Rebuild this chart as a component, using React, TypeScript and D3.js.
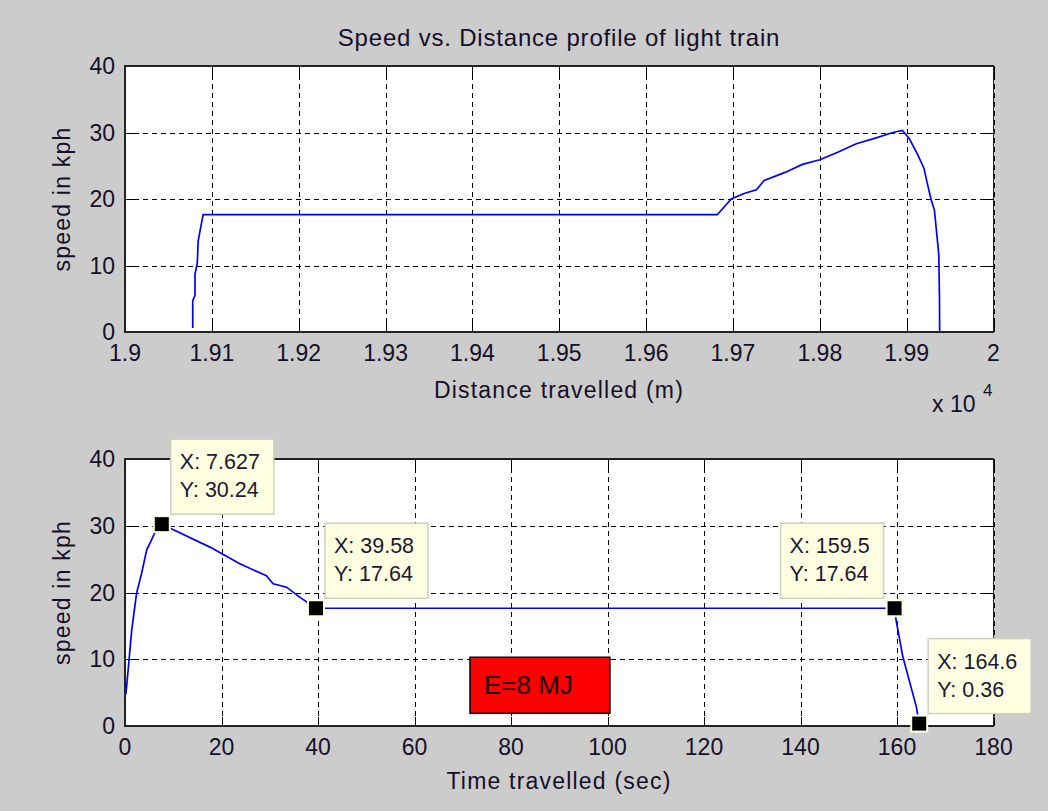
import React from "react";
import * as d3 from "d3";

// ---- data ----
const topDistance = [19078, 19078, 19080.6, 19080.6, 19083.2, 19084.3, 19087.1, 19090, 19682, 19698, 19712, 19727, 19736, 19760, 19780, 19800, 19820, 19842, 19865, 19884, 19895, 19903, 19913, 19920, 19923, 19928, 19932, 19934.7, 19937, 19937.8, 19938];
const topSpeed = [0.6, 4.7, 5.5, 8.7, 10.3, 13.7, 15.7, 17.64, 17.64, 20.0, 20.8, 21.4, 22.8, 24.0, 25.2, 25.9, 27.0, 28.3, 29.2, 30.0, 30.3, 29.1, 26.6, 24.6, 22.8, 20.0, 18.3, 14.7, 11.7, 5.0, 0.0];

const botTime = [0, 0, 0.2, 0.7, 1.4, 2.4, 3.45, 4.5, 5.5, 6.2, 7.627, 9.7, 17.6, 23.8, 29.3, 30.7, 33.5, 36.2, 39.58, 159.5, 159.8, 161.2, 164, 164.6];
const botSpeed = [0, 4.9, 4.9, 8.8, 14.4, 19.9, 22.9, 26.4, 27.9, 29.0, 30.24, 29.5, 26.8, 24.3, 22.5, 21.3, 20.8, 19.3, 17.64, 17.64, 15.9, 10.4, 2.9, 0.36];

const tipX = [7.627, 39.58, 159.5, 164.6];
const tipY = [30.24, 17.64, 17.64, 0.36];
const tipSide = ["right", "right", "left", "right"];

const topXTicks = [19000, 19100, 19200, 19300, 19400, 19500, 19600, 19700, 19800, 19900, 20000];
const topXTickLabels = ["1.9", "1.91", "1.92", "1.93", "1.94", "1.95", "1.96", "1.97", "1.98", "1.99", "2"];
const yTicks = [0, 10, 20, 30, 40];
const botXTicks = [0, 20, 40, 60, 80, 100, 120, 140, 160, 180];

const titleText = "Speed vs. Distance profile of light train";
const topXLabel = "Distance travelled (m)";
const botXLabel = "Time travelled (sec)";
const yLabel = "speed in kph";
const energyLabel = "E=8 MJ";
const energyBoxX = [71.5, 100.5];
const energyBoxY = [1.9, 10.3];

const FONT = "'Liberation Sans', Arial, Helvetica, sans-serif";
const INK = "#150f28";

function Axes({ x, y, xTicks, xLabels, yTicks }) {
  const [x0, x1] = x.range();
  const [yb, yt] = y.range();
  return (
    <g>
      <rect x={x0} y={yt} width={x1 - x0} height={yb - yt} fill="#fff" />
      <g shapeRendering="crispEdges">
        {xTicks.map((t, i) => (
          <line key={"gx" + i} x1={Math.round(x(t)) + 0.5} x2={Math.round(x(t)) + 0.5} y1={yt} y2={yb} stroke="#000" strokeWidth={1.2} strokeDasharray="5,4" />
        ))}
        {yTicks.map((t, i) => (
          <line key={"gy" + i} x1={x0} x2={x1} y1={Math.round(y(t)) + 0.5} y2={Math.round(y(t)) + 0.5} stroke="#000" strokeWidth={1.2} strokeDasharray="5,4" />
        ))}
        {xTicks.map((t, i) => (
          <g key={"tk" + i}>
            <line x1={Math.round(x(t)) + 0.5} x2={Math.round(x(t)) + 0.5} y1={yb} y2={yb - 9} stroke="#000" strokeWidth={1.5} />
            <line x1={Math.round(x(t)) + 0.5} x2={Math.round(x(t)) + 0.5} y1={yt} y2={yt + 9} stroke="#000" strokeWidth={1.5} />
          </g>
        ))}
        {yTicks.map((t, i) => (
          <g key={"tl" + i}>
            <line x1={x0} x2={x0 + 9} y1={Math.round(y(t)) + 0.5} y2={Math.round(y(t)) + 0.5} stroke="#000" strokeWidth={1.5} />
            <line x1={x1} x2={x1 - 9} y1={Math.round(y(t)) + 0.5} y2={Math.round(y(t)) + 0.5} stroke="#000" strokeWidth={1.5} />
          </g>
        ))}
      </g>
      {xTicks.map((t, i) => (
        <text key={"tx" + i} x={x(t)} y={yb + 29} textAnchor="middle" fontSize={23} fontFamily={FONT} fill={INK}>{xLabels[i]}</text>
      ))}
      {yTicks.map((t, i) => (
        <text key={"ty" + i} x={x0 - 10} y={y(t) + 8} textAnchor="end" fontSize={23} fontFamily={FONT} fill={INK}>{t}</text>
      ))}
    </g>
  );
}

export default function App() {
  const W = 1048, H = 811;
  const xTop = d3.scaleLinear().domain([19000, 20000]).range([125, 993.5]);
  const yTop = d3.scaleLinear().domain([0, 40]).range([332, 66]);
  const xBot = d3.scaleLinear().domain([0, 180]).range([125, 993.5]);
  const yBot = d3.scaleLinear().domain([0, 40]).range([726, 459]);

  const topLine = d3.line<number>().x((d, i) => xTop(topDistance[i])).y((d, i) => yTop(topSpeed[i]));
  const botLine = d3.line<number>().x((d, i) => xBot(botTime[i])).y((d, i) => yBot(botSpeed[i]));

  const txtStyle = { letterSpacing: "1.2px" };

  return (
    <div style={{ position: "absolute", left: 0, top: 0 }}>
      <svg width={W} height={H} style={{ display: "block" }}>
        <rect x={0} y={0} width={W} height={H} fill="#cccccc" />

        {/* top chart */}
        <Axes x={xTop} y={yTop} xTicks={topXTicks} xLabels={topXTickLabels} yTicks={yTicks} />
        <path d={topLine(topSpeed) || ""} fill="none" stroke="#0000ff" strokeWidth={1.7} />
        <rect x={125} y={66} width={868.5} height={266} fill="none" stroke="#222" strokeWidth={1.5} shapeRendering="crispEdges" />
        <text x={559} y={46} textAnchor="middle" fontSize={24} fontFamily={FONT} fill={INK} style={{ letterSpacing: "0.8px" }}>{titleText}</text>
        <text x={559} y={398} textAnchor="middle" fontSize={23} fontFamily={FONT} fill={INK} style={txtStyle}>{topXLabel}</text>
        <text transform={`translate(70,${(66 + 332) / 2}) rotate(-90)`} textAnchor="middle" fontSize={23} fontFamily={FONT} fill={INK} style={txtStyle}>{yLabel}</text>
        <text x={932} y={412} fontSize={23} fontFamily={FONT} fill={INK}>x 10</text>
        <text x={983} y={396} fontSize={17} fontFamily={FONT} fill={INK}>4</text>

        {/* bottom chart */}
        <Axes x={xBot} y={yBot} xTicks={botXTicks} xLabels={botXTicks.map(String)} yTicks={yTicks} />
        <path d={botLine(botSpeed) || ""} fill="none" stroke="#0000ff" strokeWidth={1.7} />
        <rect x={125} y={459} width={868.5} height={267} fill="none" stroke="#222" strokeWidth={1.5} shapeRendering="crispEdges" />
        <text x={559} y={789} textAnchor="middle" fontSize={23} fontFamily={FONT} fill={INK} style={txtStyle}>{botXLabel}</text>
        <text transform={`translate(70,${(459 + 726) / 2}) rotate(-90)`} textAnchor="middle" fontSize={23} fontFamily={FONT} fill={INK} style={txtStyle}>{yLabel}</text>

        {/* energy box */}
        <rect x={xBot(energyBoxX[0])} y={yBot(energyBoxY[1])} width={xBot(energyBoxX[1]) - xBot(energyBoxX[0])} height={yBot(energyBoxY[0]) - yBot(energyBoxY[1])} fill="#ff0000" stroke="#000" strokeWidth={1.5} />
        <text x={xBot(energyBoxX[0]) + 14} y={(yBot(energyBoxY[0]) + yBot(energyBoxY[1])) / 2 + 9} fontSize={26} fontFamily={FONT} fill="#1a0000">{energyLabel}</text>

        {/* data tips */}
        {tipX.map((tx, i) => {
          const cx = xBot(tx), cy = yBot(tipY[i]);
          const bw = 103, bh = 75;
          const bx = tipSide[i] === "right" ? cx + 9 : cx - 11 - bw;
          const by = cy - 10 - bh;
          return (
            <g key={"tip" + i}>
              <rect x={bx} y={by} width={bw} height={bh} fill="#ffffe1" stroke="#cfcfc4" strokeWidth={1.5} />
              <text x={bx + 9} y={by + 30} fontSize={21.5} fontFamily={FONT} fill="#201830">{"X: " + tx}</text>
              <text x={bx + 9} y={by + 58} fontSize={21.5} fontFamily={FONT} fill="#201830">{"Y: " + tipY[i]}</text>
              <rect x={cx - 9} y={cy - 9} width={18} height={18} fill="#ffffe1" />
              <rect x={cx - 7} y={cy - 7} width={14} height={14} fill="#000" />
            </g>
          );
        })}
      </svg>
    </div>
  );
}
